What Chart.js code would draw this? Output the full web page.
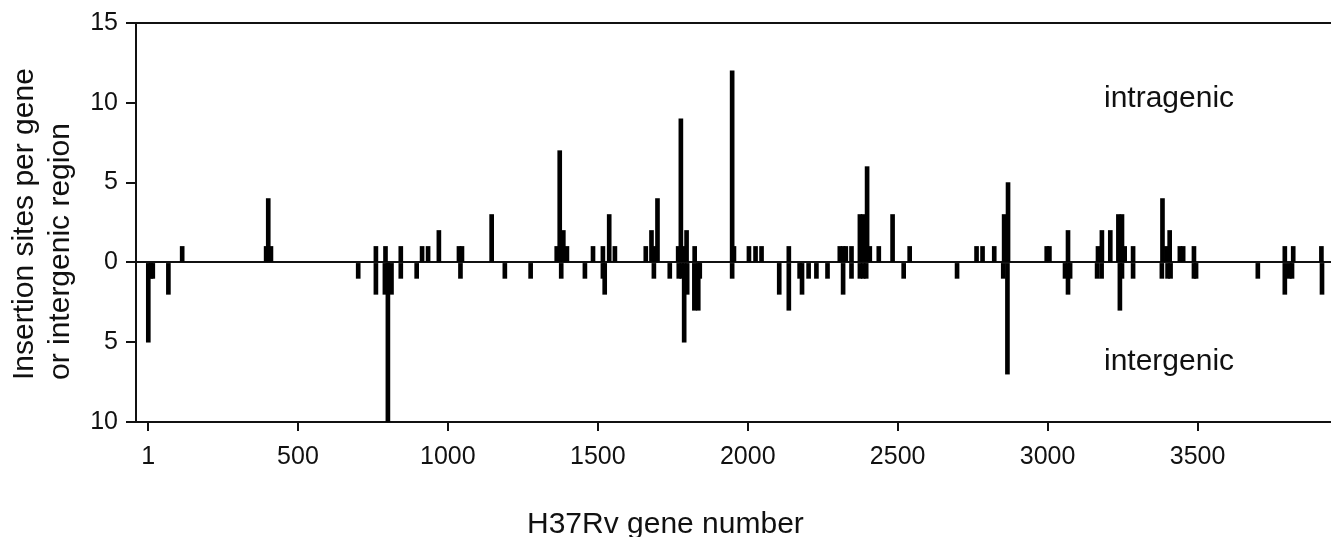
<!DOCTYPE html>
<html>
<head>
<meta charset="utf-8">
<script src="https://cdn.jsdelivr.net/npm/chart.js@4"></script>
<style>
  html, body { margin: 0; padding: 0; background: #fff; }
  #wrap { width: 1331px; height: 537px; position: relative; }
</style>
</head>
<body>
<div id="wrap"><canvas id="chart"></canvas></div>
<script>
// insertion sites inside genes (drawn upward)
var intraGene  = [114, 394, 401, 410, 760, 792, 843, 914, 934, 970, 1037, 1047, 1146,
                  1363, 1373, 1385, 1397, 1484, 1517, 1538, 1557, 1660, 1679, 1690, 1699,
                  1768, 1777, 1786, 1796, 1823, 1948, 1954, 2004, 2026, 2046, 2137,
                  2307, 2318, 2327, 2346, 2374, 2385, 2398, 2407, 2437, 2483, 2540,
                  2763, 2783, 2822, 2855, 2868, 2997, 3006, 3068, 3168, 3181, 3209,
                  3236, 3248, 3257, 3285, 3383, 3396, 3407, 3441, 3452, 3488,
                  3791, 3819, 3913];
var intraCount = [1, 1, 4, 1, 1, 1, 1, 1, 1, 2, 1, 1, 3,
                  1, 7, 2, 1, 1, 1, 3, 1, 1, 2, 1, 4,
                  1, 9, 1, 2, 1, 12, 1, 1, 1, 1, 1,
                  1, 1, 1, 1, 3, 3, 6, 1, 1, 3, 1,
                  1, 1, 1, 3, 5, 1, 1, 2, 1, 2, 2,
                  3, 3, 1, 1, 4, 1, 2, 1, 1, 1,
                  1, 1, 1];

// insertion sites in intergenic regions (drawn downward)
var interGene  = [1, 10, 16, 68, 701, 760, 790, 800, 812, 843, 896, 1042, 1190, 1276,
                  1378, 1457, 1517, 1523, 1687, 1740, 1770, 1780, 1788, 1798, 1822, 1835, 1840,
                  1948, 2105, 2137, 2173, 2181, 2203, 2229, 2266, 2318, 2346, 2374, 2385, 2395,
                  2520, 2698, 2852, 2866, 3058, 3068, 3075, 3165, 3180, 3241, 3248, 3285,
                  3381, 3400, 3410, 3488, 3495, 3701, 3791, 3806, 3815, 3915];
var interCount = [5, 1, 1, 2, 1, 2, 2, 10, 2, 1, 1, 1, 1, 1,
                  1, 1, 1, 2, 1, 1, 1, 1, 5, 2, 3, 3, 1,
                  1, 2, 3, 1, 2, 1, 1, 1, 2, 1, 1, 1, 1,
                  1, 1, 1, 7, 1, 2, 1, 1, 1, 3, 1, 1,
                  1, 1, 1, 1, 1, 1, 2, 1, 1, 2];

var xTicks = [1, 500, 1000, 1500, 2000, 2500, 3000, 3500];
var yTicks = [-10, -5, 0, 5, 10, 15];

var FONT = "'Liberation Sans', Arial, Helvetica, sans-serif";

var upData = [];
for (var i = 0; i < intraGene.length; i++) upData.push({x: intraGene[i], y: intraCount[i]});
var downData = [];
for (var j = 0; j < interGene.length; j++) downData.push({x: interGene[j], y: -interCount[j]});

var textPlugin = {
  id: 'texts',
  afterDraw: function(chart) {
    var c = chart.ctx, a = chart.chartArea;
    c.save();
    // top frame line
    c.strokeStyle = '#111';
    c.lineWidth = 2;
    c.beginPath();
    c.moveTo(a.left, a.top);
    c.lineTo(a.right, a.top);
    c.stroke();

    c.fillStyle = '#111';
    c.font = '30px ' + FONT;
    c.textAlign = 'left';
    c.textBaseline = 'alphabetic';
    c.fillText('intragenic', 1104, 107);
    c.fillText('intergenic', 1104, 370);
    c.fillText('H37Rv gene number', 527, 533);

    // y title, two lines, rotated
    c.translate(0, 380);
    c.rotate(-Math.PI / 2);
    c.fillText('Insertion sites per gene', 0, 33);
    c.fillText('or intergenic region', 0, 69);
    c.restore();
  }
};

new Chart(document.getElementById('chart'), {
  type: 'bar',
  data: {
    datasets: [
      { label: 'intragenic', data: upData, backgroundColor: '#000', barThickness: 4, grouped: false },
      { label: 'intergenic', data: downData, backgroundColor: '#000', barThickness: 4, grouped: false }
    ]
  },
  options: {
    responsive: true,
    maintainAspectRatio: false,
    animation: false,
    layout: { padding: { top: 22, right: 0, left: 0, bottom: 0 } },
    plugins: { legend: { display: false }, tooltip: { enabled: false } },
    scales: {
      x: {
        type: 'linear',
        min: -40,
        max: 3945,
        offset: false,
        afterBuildTicks: function(s) { s.ticks = xTicks.map(function(v) { return {value: v}; }); },
        afterFit: function(s) { s.height = 115; },
        border: { color: '#111', width: 2 },
        grid: { drawOnChartArea: false, tickLength: 9, tickColor: '#111', lineWidth: 2, offset: false },
        ticks: {
          color: '#111',
          font: { family: FONT, size: 25 },
          padding: 11,
          maxRotation: 0,
          autoSkip: false,
          callback: function(v) { return String(v); }
        }
      },
      y: {
        min: -10,
        max: 15,
        afterBuildTicks: function(s) { s.ticks = yTicks.map(function(v) { return {value: v}; }); },
        afterFit: function(s) { s.width = 136; },
        border: { color: '#111', width: 2 },
        grid: {
          color: function(ctx) { return ctx.tick && ctx.tick.value === 0 ? '#111' : 'rgba(0,0,0,0)'; },
          tickColor: '#111',
          tickLength: 10,
          lineWidth: 2
        },
        ticks: {
          color: '#111',
          font: { family: FONT, size: 25 },
          padding: 8,
          callback: function(v) { return String(Math.abs(v)); }
        }
      }
    }
  },
  plugins: [textPlugin]
});
</script>
</body>
</html>
